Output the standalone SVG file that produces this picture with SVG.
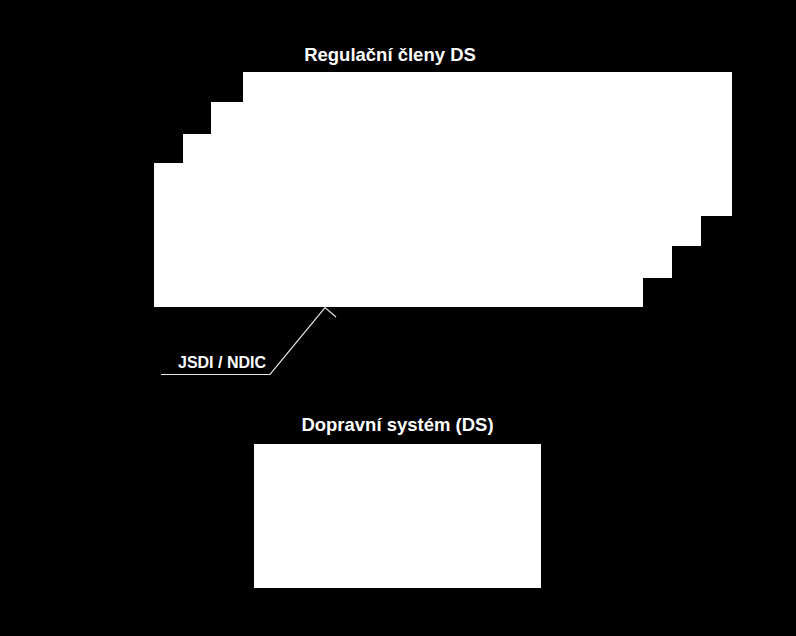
<svg xmlns="http://www.w3.org/2000/svg" width="796" height="636" viewBox="0 0 796 636">
<style>
.bg{fill:#000}
.box{fill:#fff}
.t{font-family:"Liberation Sans",Arial,sans-serif;font-weight:bold;fill:#fff;text-anchor:middle}
.lead{fill:none;stroke:#e6e6e6;stroke-width:1.2}
</style>
<rect class="bg" x="0" y="0" width="796" height="636"/>
<g id="regulacni-cleny">
<rect class="box" x="243" y="72" width="489" height="144"/>
<rect class="box" x="211" y="102" width="490" height="144"/>
<rect class="box" x="183" y="134" width="489" height="144"/>
<rect class="box" x="154" y="163" width="489" height="144"/>
<text class="t" x="390" y="61" font-size="18.5">Regulační členy DS</text>
</g>
<g id="dopravni-system">
<rect class="box" x="254" y="444" width="287" height="144"/>
<text class="t" x="397.5" y="431" font-size="18.5">Dopravní systém (DS)</text>
</g>
<g id="connectors">
<polyline class="lead" points="161,374.5 270,374.5 325,307.5 336,317"/>
</g>
<g id="label-jsdi">
<text class="t" x="222" y="368" font-size="16">JSDI / NDIC</text>
</g>
</svg>
